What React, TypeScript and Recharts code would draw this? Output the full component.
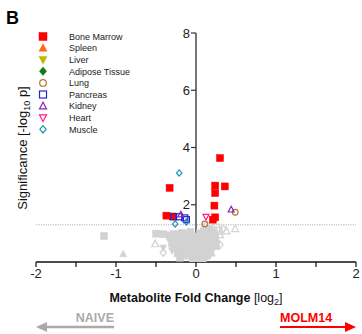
import React from 'react';
import { ScatterChart, Scatter, XAxis, YAxis, ReferenceLine } from 'recharts';

const FONT = '"Liberation Sans", Arial, Helvetica, sans-serif';

type Pt = { x: number; y: number };
const P = (arr: number[][]): Pt[] => arr.map(([x, y]) => ({ x, y }));

// Tissue series (log2 fold change, -log10 p)
const boneMarrow = P([
  [0.30, 3.63], [-0.33, 2.59], [0.24, 2.67], [0.36, 2.64], [0.24, 2.41],
  [0.23, 1.97], [-0.37, 1.62], [-0.29, 1.59], [0.24, 1.56], [0.21, 1.48],
]);
const spleen: Pt[] = [];
const liver: Pt[] = [];
const adipose: Pt[] = [];
const lung = P([[0.49, 1.74], [0.11, 1.33]]);
const pancreas = P([[-0.28, 1.58], [-0.21, 1.58], [-0.14, 1.54], [-0.12, 1.48]]);
const kidney = P([[-0.19, 1.66], [0.44, 1.83]]);
const heart = P([[0.125, 1.58]]);
const muscle = P([[-0.21, 3.11], [-0.26, 1.33], [-0.12, 1.40]]);

// Non-significant metabolites (grey)
const greySquares = P([
  [-1.15, 0.91], [-0.50, 0.99], [-0.41, 0.97], [-0.33, 0.92], [-0.28, 0.98], [-0.22, 0.95],
  [-0.18, 1.02], [-0.12, 0.99], [-0.07, 1.05], [-0.25, 0.80], [-0.19, 0.72], [-0.30, 0.65],
  [-0.14, 0.60], [-0.08, 0.78], [-0.22, 0.48], [-0.10, 0.40], [-0.05, 0.55], [-0.16, 0.30],
  [-0.06, 0.22], [-0.02, 0.10], [0.03, 0.08], [0.06, 0.30], [0.10, 0.45], [0.14, 0.62],
  [0.08, 0.75], [0.18, 0.85], [0.12, 0.95], [0.05, 1.00], [0.20, 1.05], [0.15, 1.15],
  [0.22, 0.70], [0.25, 0.55], [0.17, 0.40], [0.09, 0.18], [0.02, 0.38], [-0.03, 0.70],
  [0.03, 0.88], [0.24, 0.92],
  [-0.30, 0.85], [-0.27, 0.55], [-0.23, 0.30], [-0.20, 0.15], [-0.17, 0.45], [-0.15, 0.70],
  [-0.12, 0.55], [-0.11, 0.25], [-0.09, 0.75], [-0.07, 0.45], [-0.05, 0.32], [-0.04, 0.08],
  [-0.03, 0.58], [-0.01, 0.25], [0.01, 0.65], [0.02, 0.15], [0.04, 0.42], [0.05, 0.75],
]);
const greyCircles = P([
  [-0.17, 0.88], [-0.02, 0.85], [0.08, 0.55], [0.15, 0.78], [-0.28, 0.75], [0.0, 0.0],
  [0.04, 0.20], [-0.10, 0.65],
  [0.07, 0.90], [0.08, 0.35], [0.10, 0.10], [0.11, 1.00], [0.12, 0.50], [0.14, 0.35],
  [0.16, 0.70], [0.18, 0.60], [0.19, 0.95], [0.21, 0.85], [0.23, 0.60], [0.15, 0.20],
  [-0.26, 0.95], [-0.32, 0.78], [-0.20, 0.85], [-0.13, 0.95], [0.00, 0.90], [0.09, 1.05],
  [-0.06, 0.95], [0.13, 0.85], [-0.18, 0.20], [0.06, 0.60], [0.01, 0.04], [-0.01, 0.40],
]);
const greyTriangles = P([
  [-0.91, 0.28], [-0.26, 0.88], [-0.11, 0.85], [0.07, 1.12], [0.19, 0.55], [0.12, 0.25],
  [-0.20, 0.58], [-0.04, 0.30], [0.26, 0.78], [0.20, 0.30], [0.13, 1.08],
]);
const greyInvTriangles = P([
  [-0.41, 0.50], [-0.30, 0.40], [-0.15, 0.82], [0.04, 0.62], [0.16, 0.98], [-0.08, 0.15], [0.10, 0.85],
]);
const greyDiamonds = P([
  [-0.35, 0.95], [-0.24, 0.68], [-0.09, 0.90], [0.01, 0.48], [0.11, 0.65], [0.21, 0.45],
  [-0.13, 0.20], [0.06, 0.02],
]);
const greyOpenTriangles = P([[-0.51, 0.63], [0.49, 1.16], [0.38, 1.08], [0.30, 0.95]]);
const greyOpenSquares = P([[0.28, 1.09], [0.25, 1.20]]);
const greyOpenDiamonds = P([[-0.41, 0.33], [0.34, 1.16], [0.30, 0.60]]);
const greyOpenCircles = P([[0.13, 1.25], [0.22, 1.12]]);

const xTicks = [-2, -1.5, -1, -0.5, 0, 0.5, 1, 1.5, 2];
const yTicks = [2, 4, 6, 8];
const THRESHOLD = 1.3;

type Kind = 'square' | 'triangle' | 'invtriangle' | 'diamond' | 'circle';

const TISSUES: { name: string; kind: Kind; color: string; filled: boolean; data: Pt[] }[] = [
  { name: 'Bone Marrow', kind: 'square', color: '#ff0000', filled: true, data: boneMarrow },
  { name: 'Spleen', kind: 'triangle', color: '#ff6a10', filled: true, data: spleen },
  { name: 'Liver', kind: 'invtriangle', color: '#c2b400', filled: true, data: liver },
  { name: 'Adipose Tissue', kind: 'diamond', color: '#137a13', filled: true, data: adipose },
  { name: 'Lung', kind: 'circle', color: '#b07636', filled: false, data: lung },
  { name: 'Pancreas', kind: 'square', color: '#2424cc', filled: false, data: pancreas },
  { name: 'Kidney', kind: 'triangle', color: '#8a22bb', filled: false, data: kidney },
  { name: 'Heart', kind: 'invtriangle', color: '#ff1e90', filled: false, data: heart },
  { name: 'Muscle', kind: 'diamond', color: '#2090b0', filled: false, data: muscle },
];

const GREY = '#d2d2d2';
const GREYS: { kind: Kind; filled: boolean; data: Pt[] }[] = [
  { kind: 'square', filled: true, data: greySquares },
  { kind: 'circle', filled: true, data: greyCircles },
  { kind: 'triangle', filled: true, data: greyTriangles },
  { kind: 'invtriangle', filled: true, data: greyInvTriangles },
  { kind: 'diamond', filled: true, data: greyDiamonds },
  { kind: 'triangle', filled: false, data: greyOpenTriangles },
  { kind: 'square', filled: false, data: greyOpenSquares },
  { kind: 'diamond', filled: false, data: greyOpenDiamonds },
  { kind: 'circle', filled: false, data: greyOpenCircles },
];

function Marker({ cx, cy, kind, color, filled, size }: { cx: number; cy: number; kind: Kind; color: string; filled: boolean; size: number }) {
  if (cx == null || cy == null || isNaN(cx) || isNaN(cy)) return null;
  const s = size / 2;
  const fill = filled ? color : 'none';
  const stroke = color;
  const sw = filled ? 0.5 : 1.2;
  switch (kind) {
    case 'square':
      return <rect x={cx - s} y={cy - s} width={size} height={size} fill={fill} stroke={stroke} strokeWidth={sw} />;
    case 'triangle':
      return <polygon points={`${cx},${cy - s * 1.1} ${cx + s},${cy + s * 0.8} ${cx - s},${cy + s * 0.8}`} fill={fill} stroke={stroke} strokeWidth={sw} />;
    case 'invtriangle':
      return <polygon points={`${cx},${cy + s * 1.1} ${cx + s},${cy - s * 0.8} ${cx - s},${cy - s * 0.8}`} fill={fill} stroke={stroke} strokeWidth={sw} />;
    case 'diamond':
      return <polygon points={`${cx},${cy - s * 1.05} ${cx + s * 0.9},${cy} ${cx},${cy + s * 1.05} ${cx - s * 0.9},${cy}`} fill={fill} stroke={stroke} strokeWidth={sw} />;
    case 'circle':
    default:
      return <circle cx={cx} cy={cy} r={s * 0.95} fill={fill} stroke={stroke} strokeWidth={sw} />;
  }
}

const Y_AXIS_PX = 196; // pixel position of x = 0 (plot left 36 + 320/2)

const renderYTick = (props: any) => {
  const { y, payload } = props;
  return (
    <g>
      <line x1={Y_AXIS_PX - 5} x2={Y_AXIS_PX} y1={y} y2={y} stroke="#333" strokeWidth={1.2} />
      <text x={Y_AXIS_PX - 6} y={y} dy={4.6} textAnchor="end" fontSize={13} fill="#222" fontFamily={FONT}>
        {payload.value}
      </text>
    </g>
  );
};

export default function App() {
  return (
    <div style={{ position: 'absolute', left: 0, top: 0, width: 362, height: 334, background: '#fff' }}>
      <ScatterChart width={362} height={334} margin={{ top: 33, right: 6, bottom: 42, left: 26 }}>
        <XAxis
          type="number"
          dataKey="x"
          domain={[-2, 2]}
          ticks={xTicks}
          interval={0}
          allowDataOverflow
          height={30}
          axisLine={{ stroke: '#111', strokeWidth: 1.5 }}
          tickLine={{ stroke: '#111', strokeWidth: 1.2 }}
          tickSize={5}
          tick={{ fontSize: 13, fill: '#222', fontFamily: FONT }}
          tickFormatter={(v: number) => (Number.isInteger(v) ? String(v) : '')}
        />
        <YAxis
          type="number"
          dataKey="y"
          domain={[0, 8]}
          ticks={yTicks}
          interval={0}
          allowDataOverflow
          width={10}
          axisLine={false}
          tickLine={false}
          tick={renderYTick}
        />
        <ReferenceLine y={THRESHOLD} stroke="#b0b0b0" strokeWidth={1} strokeDasharray="1.2 1.2" />
        <ReferenceLine x={0} stroke="#4a4a4a" strokeWidth={1.5} />
        {GREYS.map((g, i) => (
          <Scatter
            key={'g' + i}
            data={g.data}
            isAnimationActive={false}
            shape={(p: any) => <Marker cx={p.cx} cy={p.cy} kind={g.kind} color={GREY} filled={g.filled} size={7} />}
          />
        ))}
        {TISSUES.map((t) => (
          <Scatter
            key={t.name}
            name={t.name}
            data={t.data}
            isAnimationActive={false}
            shape={(p: any) => (
              <Marker cx={p.cx} cy={p.cy} kind={t.kind} color={t.color} filled={t.filled} size={t.filled ? 7 : 6} />
            )}
          />
        ))}
      </ScatterChart>
      <svg
        width={362}
        height={334}
        style={{ position: 'absolute', left: 0, top: 0, pointerEvents: 'none' }}
        fontFamily={FONT}
      >
        <text x={6} y={24} fontSize={18} fontWeight="bold" fill="#000">B</text>
        {TISSUES.map((t, i) => {
          const cy = 36.5 + i * 11.6;
          return (
            <g key={t.name}>
              <Marker cx={43} cy={cy} kind={t.kind} color={t.color} filled={t.filled} size={t.filled ? 8 : 7} />
              <text x={69} y={cy + 3.2} fontSize={9} fill="#222">{t.name}</text>
            </g>
          );
        })}
        <text transform="translate(27,148) rotate(-90)" textAnchor="middle" fontSize={13} fill="#111">
          Significance [-log<tspan fontSize={9} dy={3}>10</tspan><tspan dy={-3}> p]</tspan>
        </text>
        <text x={196} y={302} textAnchor="middle" fontSize={12.5} fill="#111">
          <tspan fontWeight="bold">Metabolite Fold Change</tspan>
          <tspan> [log</tspan>
          <tspan fontSize={9} dy={3}>2</tspan>
          <tspan dy={-3}>]</tspan>
        </text>
        <text x={114} y={322} textAnchor="end" fontSize={12.5} fontWeight="bold" fill="#aaaaaa">NAIVE</text>
        <line x1={45} x2={114} y1={327} y2={327} stroke="#aaaaaa" strokeWidth={2.5} />
        <polygon points="36,327 47,322 47,332" fill="#aaaaaa" />
        <text x={280} y={322} fontSize={12.5} fontWeight="bold" fill="#ff0000">MOLM14</text>
        <line x1={280} x2={347} y1={327} y2={327} stroke="#ff0000" strokeWidth={2} />
        <polygon points="356,327 345,322 345,332" fill="#ff0000" />
      </svg>
    </div>
  );
}
